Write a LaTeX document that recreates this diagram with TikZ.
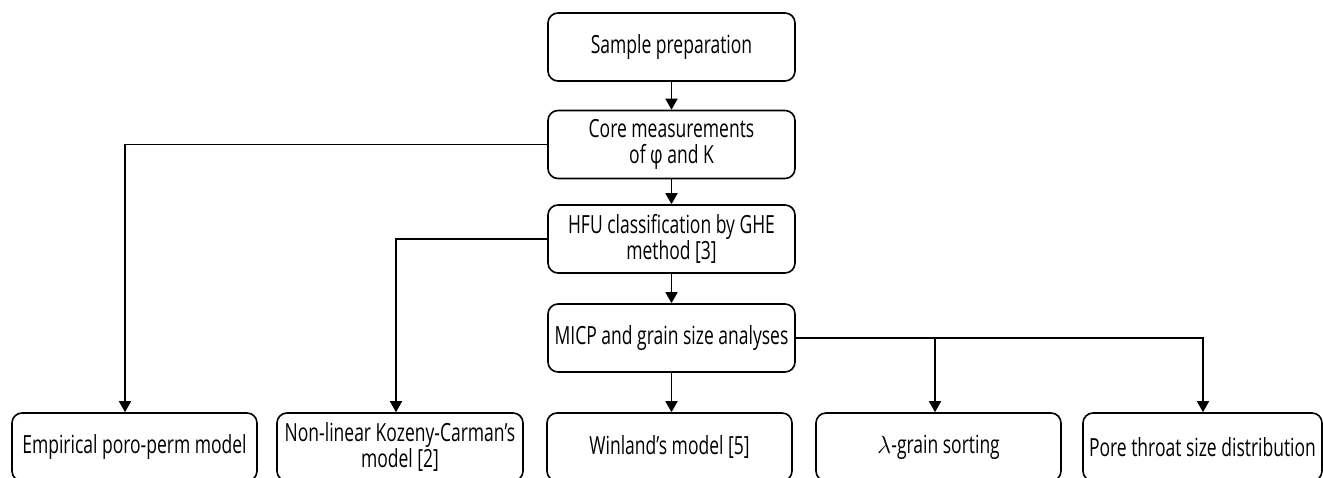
\documentclass[tikz,border=0pt]{standalone}
\usepackage{fontspec}
\setmainfont{Open Sans}[FakeStretch=0.7]
\usetikzlibrary{arrows.meta}
\begin{document}
\begin{tikzpicture}[x=1pt,y=-1pt,
  box/.style={draw, line width=1.6pt, rounded corners=10pt, minimum width=247pt,
    minimum height=68pt, align=center, inner sep=2pt,
    font=\fontsize{25}{26.5}\selectfont},
  conn/.style={line width=1.6pt, -{Triangle[length=11pt,width=12pt]}}]
\useasboundingbox (0,0) rectangle (1323,478);
\node[box] (s1) at (671.5,47) {Sample preparation};
\node[box] (s2) at (671.5,144.5) {Core measurements\\of φ and K};
\node[box] (s3) at (671.5,239) {HFU classification by GHE\\method [3]};
\node[box] (s4) at (671.5,338) {MICP and grain size analyses};
\node[box, minimum width=245pt] (a) at (134.5,447) {Empirical poro-perm model};
\node[box, minimum width=246pt] (b) at (400,447) {Non-linear Kozeny-Carman’s\\model [2]};
\node[box, minimum width=245pt] (c) at (669.5,447) {Winland’s model [5]};
\node[box, minimum width=245pt] (d) at (938.5,447) {$\lambda$-grain sorting};
\node[box, minimum width=239pt] (e) at (1202.5,447) {Pore throat size distribution};
\draw[conn] (s1) -- (s2);
\draw[conn] (s2) -- (s3);
\draw[conn] (s3) -- (s4);
\draw[conn] (s4.south) -- (s4.south |- c.north);
\draw[conn] (s2.west) -| ([xshift=-9.5pt]a.north);
\draw[conn] (s3.west) -| ([xshift=-4pt]b.north);
\draw[conn] (s4.east) -| ([xshift=-3.5pt]d.north);
\draw[conn] (s4.east) -| ([xshift=0.5pt]e.north);
\end{tikzpicture}
\end{document}
